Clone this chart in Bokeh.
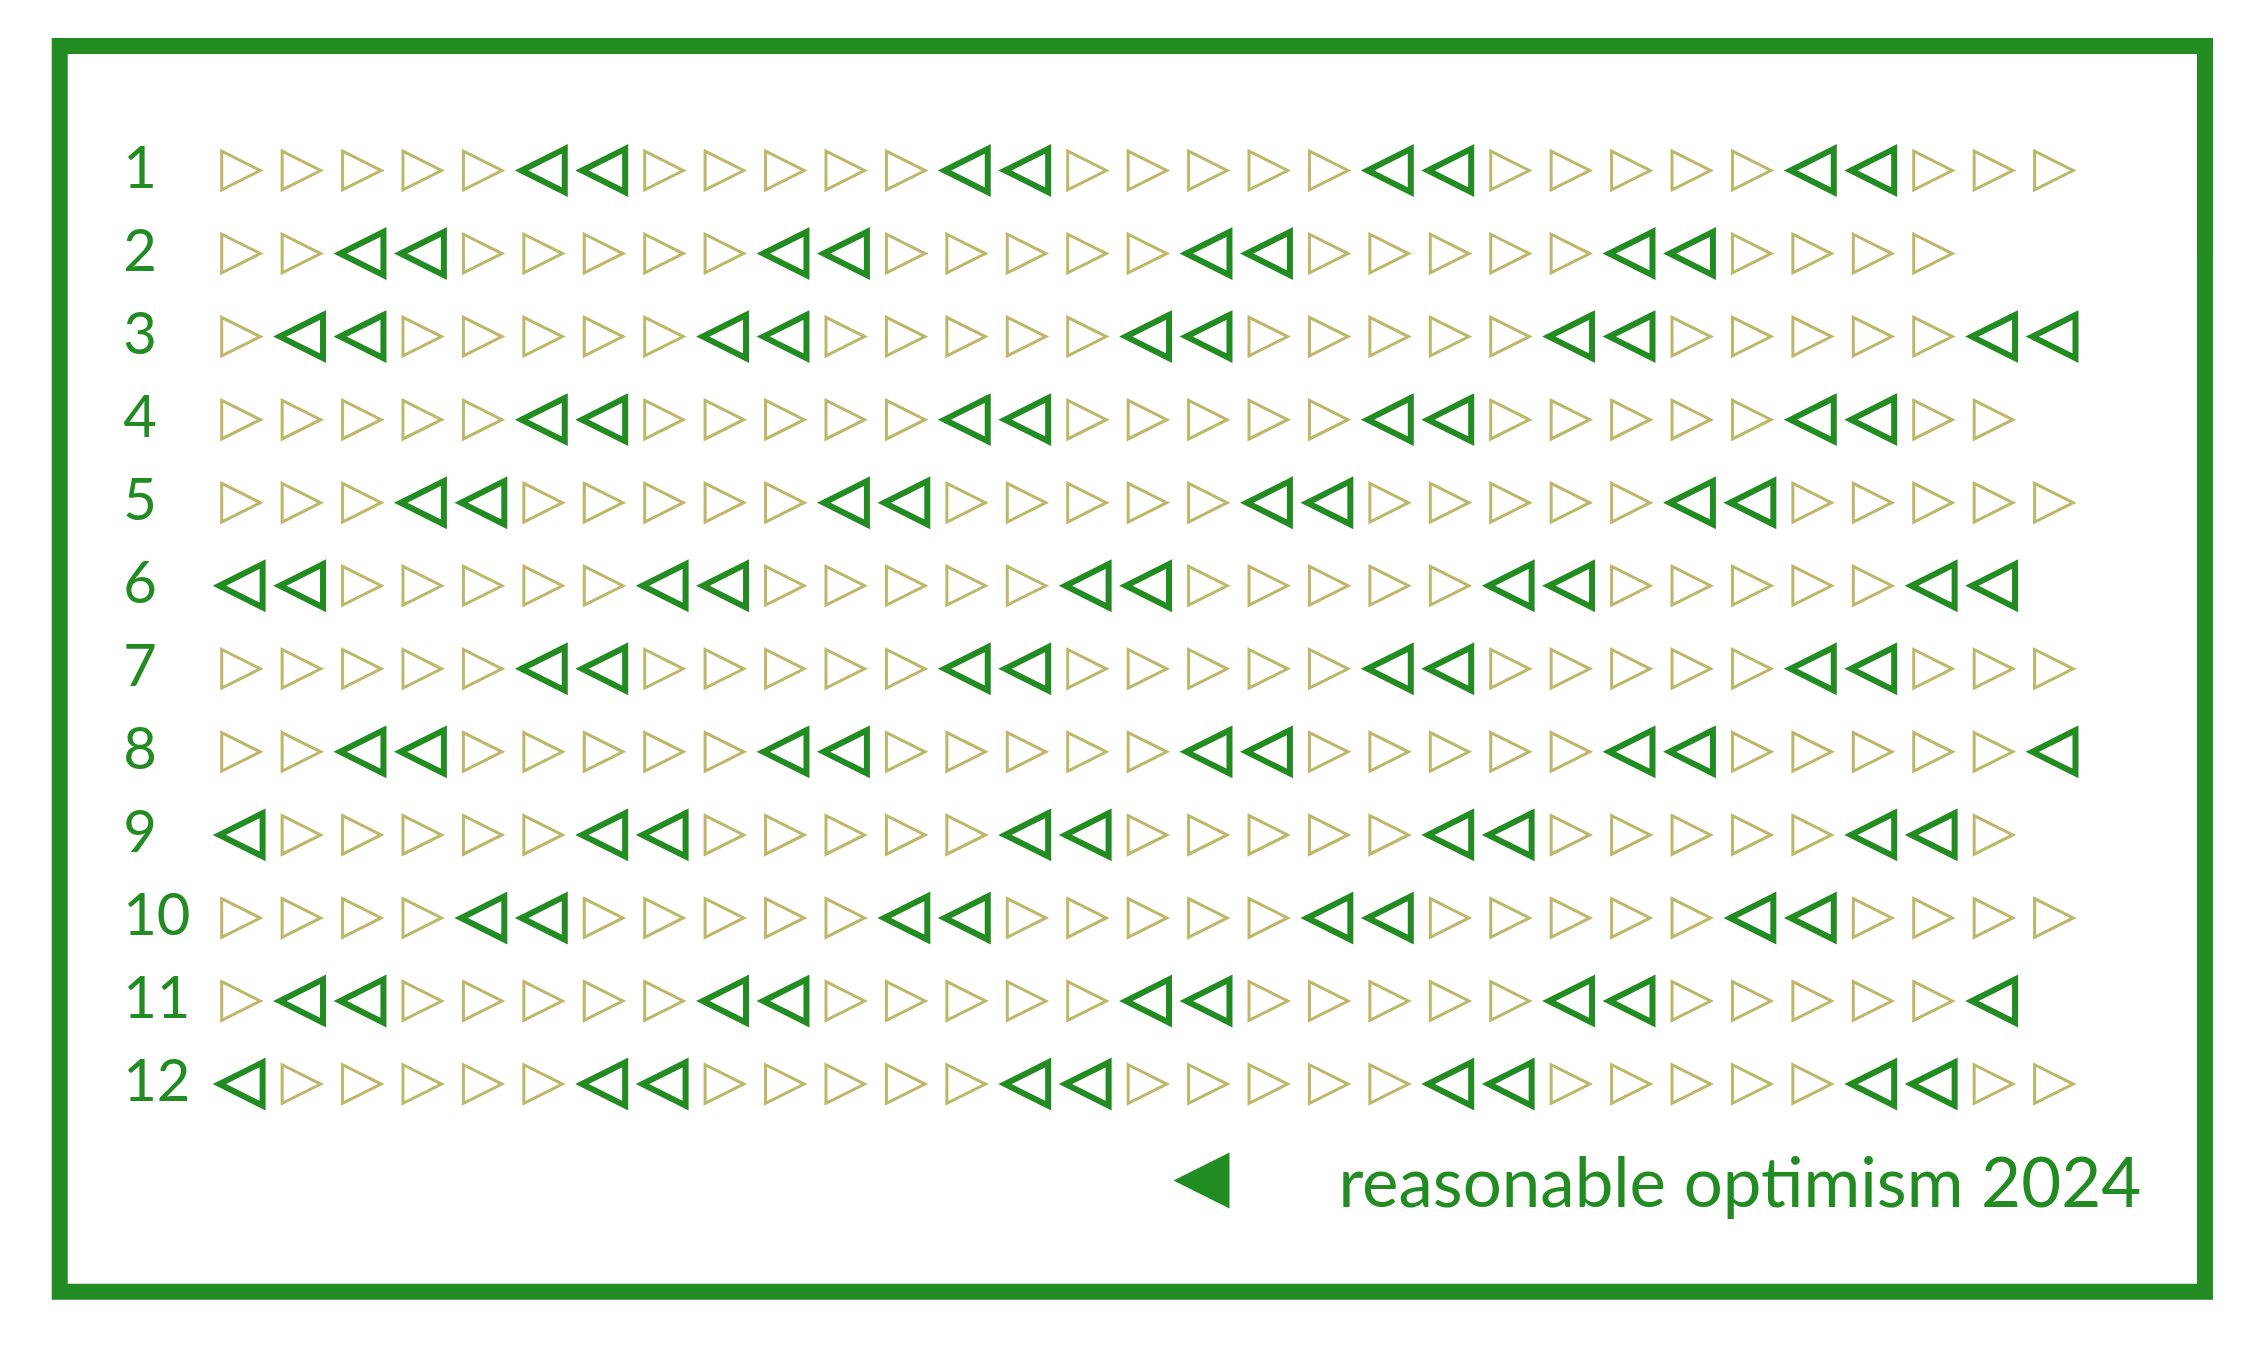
from bokeh.plotting import figure
from bokeh.models import Range1d, ColumnDataSource
from bokeh.embed import file_html
from bokeh.resources import INLINE
from bokeh.core.properties import value

# ---- data (2024 calendar) ----
months = [1, 2, 3, 4, 5, 6, 7, 8, 9, 10, 11, 12]
month_labels = ["1", "2", "3", "4", "5", "6", "7", "8", "9", "10", "11", "12"]
days_in_month = [31, 29, 31, 30, 31, 30, 31, 31, 30, 31, 30, 31]
first_weekday = [0, 3, 4, 0, 2, 5, 0, 3, 6, 1, 4, 6]   # Mon=0 ... Sun=6
weekend_days = [5, 6]                                  # Sat, Sun
legend_label = "reasonable optimism 2024"

DARK = "#228B22"
LIGHT = "#BDB76B"
FONT = "Lato"

W, H = 2250, 1350
px_x = 60.43   # pixels per day
px_y = 83.05   # pixels per month row
x0 = 1 - 240.5 / px_x
y0 = 1 - 170.0 / px_y

p = figure(width=W, height=H, output_backend="svg", toolbar_location=None,
           x_axis_type=None, y_axis_type=None, min_border=0,
           x_range=Range1d(x0, x0 + W / px_x),
           y_range=Range1d(y0 + H / px_y, y0))
p.outline_line_color = None
p.grid.visible = False
p.background_fill_color = "white"
p.border_fill_color = "white"

# frame
p.quad(left=[-2.0], right=[33.5], top=[-0.5], bottom=[14.5],
       fill_color=None, line_color=DARK, line_width=16, line_join="miter")

# build triangles
wk_xs, wk_ys, we_xs, we_ys = [], [], [], []
hl = 19.3   # half size (px) light
hd = 21.6   # half size (px) dark
for m, n, f in zip(months, days_in_month, first_weekday):
    for d in range(1, n + 1):
        wd = (f + d - 1) % 7
        if wd in weekend_days:
            dx, dy = hd / px_x, hd / px_y
            we_xs.append([d + dx, d - dx, d + dx])
            we_ys.append([m - dy, m, m + dy])
        else:
            dx, dy = hl / px_x, hl / px_y
            wk_xs.append([d - dx, d + dx, d - dx])
            wk_ys.append([m - dy, m, m + dy])

p.patches(xs=wk_xs, ys=wk_ys, fill_color=None, line_color=LIGHT,
          line_width=3, line_join="miter")
p.patches(xs=we_xs, ys=we_ys, fill_color=None, line_color=DARK,
          line_width=6, line_join="miter")

# month labels
lab_src = ColumnDataSource(dict(x=[-0.95] * len(months),
                                y=[m - 4 / px_y for m in months],
                                t=month_labels))
p.text(x="x", y="y", text="t", source=lab_src, text_font=value(FONT),
       text_font_size="58px", text_color=DARK, text_align="left",
       text_baseline="alphabetic")

# legend
lx, ly, lh = 16.894, 13.161, 28
p.patch(x=[lx - lh / px_x, lx + lh / px_x, lx + lh / px_x],
        y=[ly, ly - lh / px_y, ly + lh / px_y],
        fill_color=DARK, line_color=None)
p.text(x=[19.16], y=[13.486 - 27 / px_y], text=[legend_label], text_font=value(FONT),
       text_font_size="69px", text_color=DARK, text_align="left",
       text_baseline="alphabetic")

open("out.html", "w").write(file_html(p, INLINE))
